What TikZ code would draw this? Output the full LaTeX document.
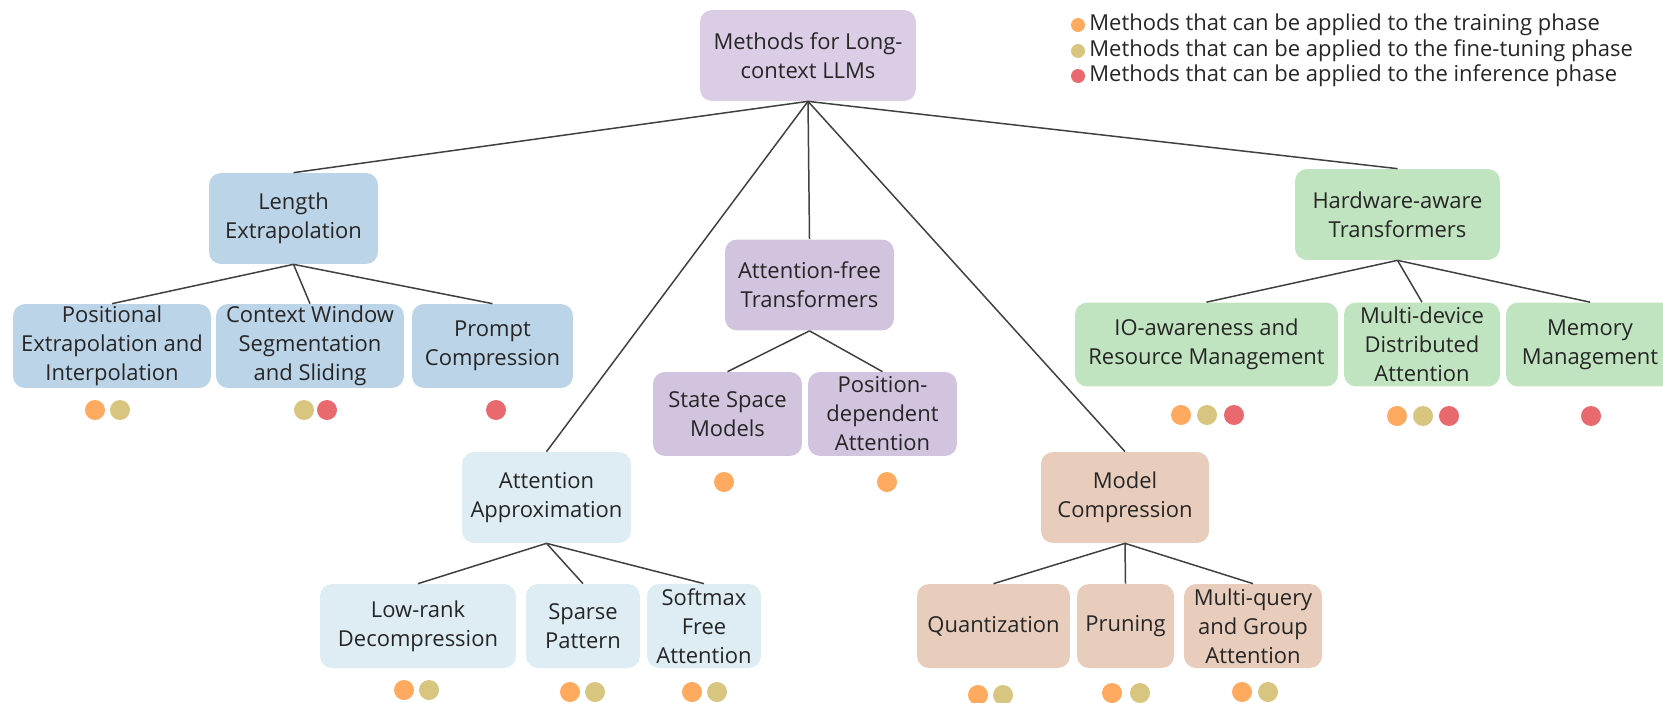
\documentclass[tikz,border=0pt]{standalone}
\usepackage{fontspec}
\setmainfont{Open Sans}
\definecolor{rootfill}{HTML}{DCCDE6}
\definecolor{freefill}{HTML}{D2C4DE}
\definecolor{lenfill}{HTML}{BCD4E7}
\definecolor{approxfill}{HTML}{DDEDF3}
\definecolor{compfill}{HTML}{E8CDBD}
\definecolor{hwfill}{HTML}{C1E4C0}
\definecolor{trainc}{HTML}{FFAA5E}
\definecolor{tunec}{HTML}{D8C57F}
\definecolor{inferc}{HTML}{E8696E}
\definecolor{textc}{HTML}{262626}
\definecolor{linkc}{HTML}{404040}
\begin{document}
\begin{tikzpicture}[x=0.02cm,y=-0.02cm,
    every node/.style={font=\fontsize{12.5}{16.5}\selectfont, text=textc},
    box/.style={rounded corners=0.24cm, inner sep=0pt, align=center, minimum height=1.68cm},
    bigbox/.style={box, minimum height=1.82cm},
    link/.style={draw=linkc, line width=0.85pt}]

        % Frame of the picture
        \useasboundingbox (0,0) rectangle (1663,703);

        % Root
        \node[bigbox, fill=rootfill, minimum width=4.32cm] (root) at (808,55.5) {Methods for Long-\\context LLMs};

        % Legend
        \fill[trainc] (1078,25) circle (7);
        \fill[tunec] (1078,51) circle (7);
        \fill[inferc] (1078,76) circle (7);
        \node[anchor=west, inner sep=0pt] (legtrain) at (1089,25) {Methods that can be applied to the training phase};
        \node[anchor=west, inner sep=0pt] (legtune) at (1089,51) {Methods that can be applied to the fine-tuning phase};
        \node[anchor=west, inner sep=0pt] (leginfer) at (1089,76) {Methods that can be applied to the inference phase};

        % Length extrapolation branch
        \node[bigbox, fill=lenfill, minimum width=3.38cm] (len) at (293.5,218.5) {Length\\Extrapolation};
        \node[box, fill=lenfill, minimum width=3.96cm] (posint) at (112,346) {Positional\\Extrapolation and\\Interpolation};
        \node[box, fill=lenfill, minimum width=3.76cm] (ctxwin) at (310,346) {Context Window\\Segmentation\\and Sliding};
        \node[box, fill=lenfill, minimum width=3.22cm] (prompt) at (492.5,346) {Prompt\\Compression};

        % Attention-free branch
        \node[bigbox, fill=freefill, minimum width=3.38cm] (afree) at (809.5,285) {Attention-free\\Transformers};
        \node[box, fill=freefill, minimum width=2.98cm] (ssm) at (727.5,414) {State Space\\Models};
        \node[box, fill=freefill, minimum width=2.98cm] (posdep) at (882.5,414) {Position-\\dependent\\Attention};

        % Attention approximation branch
        \node[bigbox, fill=approxfill, minimum width=3.38cm] (aapprox) at (546.5,497.5) {Attention\\Approximation};
        \node[box, fill=approxfill, minimum width=3.92cm] (lowrank) at (418,626) {Low-rank\\Decompression};
        \node[box, fill=approxfill, minimum width=2.28cm] (sparse) at (583,626) {Sparse\\Pattern};
        \node[box, fill=approxfill, minimum width=2.28cm] (softmax) at (704,626) {Softmax\\Free\\Attention};

        % Model compression branch
        \node[bigbox, fill=compfill, minimum width=3.36cm] (mcomp) at (1125,497.5) {Model\\Compression};
        \node[box, fill=compfill, minimum width=3.06cm] (quant) at (993.5,626) {Quantization};
        \node[box, fill=compfill, minimum width=1.94cm] (prune) at (1125.5,626) {Pruning};
        \node[box, fill=compfill, minimum width=2.76cm] (mquery) at (1253,626) {Multi-query\\and Group\\Attention};

        % Hardware-aware branch
        \node[bigbox, fill=hwfill, minimum width=4.10cm] (hw) at (1397.5,214.5) {Hardware-aware\\Transformers};
        \node[box, fill=hwfill, minimum width=5.26cm] (ioaware) at (1206.5,344.5) {IO-awareness and\\Resource Management};
        \node[box, fill=hwfill, minimum width=3.12cm] (multidev) at (1422,344.5) {Multi-device\\Distributed\\Attention};
        \node[box, fill=hwfill, minimum width=3.36cm] (memory) at (1590,344.5) {Memory\\Management};

        % Connectors
        \foreach \c in {len,afree,aapprox,mcomp,hw}
            \draw[link] (root.south) -- (\c.north);
        \foreach \c in {posint,ctxwin,prompt}
            \draw[link] (len.south) -- (\c.north);
        \foreach \c in {ssm,posdep}
            \draw[link] (afree.south) -- (\c.north);
        \foreach \c in {lowrank,sparse,softmax}
            \draw[link] (aapprox.south) -- (\c.north);
        \foreach \c in {quant,prune,mquery}
            \draw[link] (mcomp.south) -- (\c.north);
        \foreach \c in {ioaware,multidev,memory}
            \draw[link] (hw.south) -- (\c.north);

        % Phase dots
        \fill[trainc] (95,410) circle (10);  \fill[tunec] (120,410) circle (10);
        \fill[tunec] (304,410) circle (10);  \fill[inferc] (327,410) circle (10);
        \fill[inferc] (496,410) circle (10);
        \fill[trainc] (724,482) circle (10);
        \fill[trainc] (887,482) circle (10);
        \fill[trainc] (404,690) circle (10); \fill[tunec] (429,690) circle (10);
        \fill[trainc] (570,692) circle (10); \fill[tunec] (595,692) circle (10);
        \fill[trainc] (692,692) circle (10); \fill[tunec] (717,692) circle (10);
        \fill[trainc] (978,695) circle (10); \fill[tunec] (1003,695) circle (10);
        \fill[trainc] (1112,693) circle (10); \fill[tunec] (1140,693) circle (10);
        \fill[trainc] (1242,692) circle (10); \fill[tunec] (1268,692) circle (10);
        \fill[trainc] (1181,415) circle (10); \fill[tunec] (1207,415) circle (10); \fill[inferc] (1234,415) circle (10);
        \fill[trainc] (1397,416) circle (10); \fill[tunec] (1423,416) circle (10); \fill[inferc] (1449,416) circle (10);
        \fill[inferc] (1591,416) circle (10);
    \end{tikzpicture}
\end{document}
